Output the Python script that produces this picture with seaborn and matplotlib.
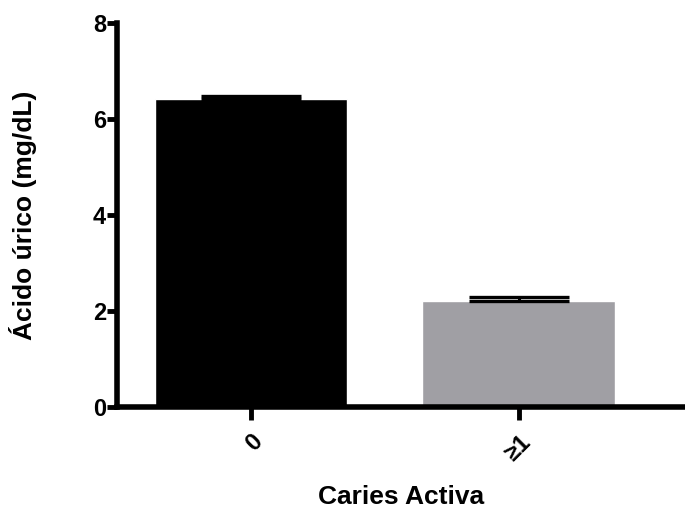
import matplotlib
matplotlib.use("Agg")
import matplotlib.pyplot as plt
import seaborn as sns
import pandas as pd

categories = ["0", "≥1"]
means = [6.42, 2.21]
sem = [0.06, 0.08]
colors = ["#000000", "#a09fa4"]

df = pd.DataFrame({"caries": categories, "acido": means})

sns.set_style("ticks")
plt.rcParams["font.family"] = ["Liberation Sans", "DejaVu Sans"]
plt.rcParams["font.weight"] = "bold"
plt.rcParams["text.color"] = "black"
plt.rcParams["axes.labelcolor"] = "black"
plt.rcParams["xtick.color"] = "black"
plt.rcParams["ytick.color"] = "black"

fig = plt.figure(figsize=(6.85, 5.15), dpi=100)
ax = fig.add_axes([0.171, 0.21, 0.829, 0.745])

sns.barplot(data=df, x="caries", y="acido", hue="caries", palette=colors,
            width=0.72, errorbar=None, legend=False, ax=ax, saturation=1)
# Prism-style: only the upper half of the SEM bar is shown
ax.errorbar(range(len(categories)), means, yerr=[[0, 0], sem], fmt="none",
            ecolor="black", elinewidth=2.2, capsize=36, capthick=2.4)

ax.set_ylim(0, 8)
ax.set_xlim(-0.5, 1.62)
ax.set_yticks([0, 2, 4, 6, 8])
ax.set_yticklabels(["0", "2", "4", "6", "8"], fontsize=17, fontweight="bold")
ax.set_xticks(range(len(categories)))
ax.set_xticklabels(categories, rotation=45, ha="right", rotation_mode="anchor",
                   fontsize=17, fontweight="bold")

for side in ["top", "right"]:
    ax.spines[side].set_visible(False)
for side in ["left", "bottom"]:
    ax.spines[side].set_linewidth(4)
    ax.spines[side].set_color("black")
ax.tick_params(axis="both", width=3.5, length=7, color="black", labelcolor="black")
ax.tick_params(axis="x", length=9, pad=8)
ax.tick_params(axis="y", pad=1)

ax.set_xlabel("Caries Activa", fontsize=19, fontweight="bold", labelpad=14)
ax.set_ylabel("Ácido úrico (mg/dL)", fontsize=19, fontweight="bold", labelpad=40)

fig.savefig("out.png", dpi=100)
